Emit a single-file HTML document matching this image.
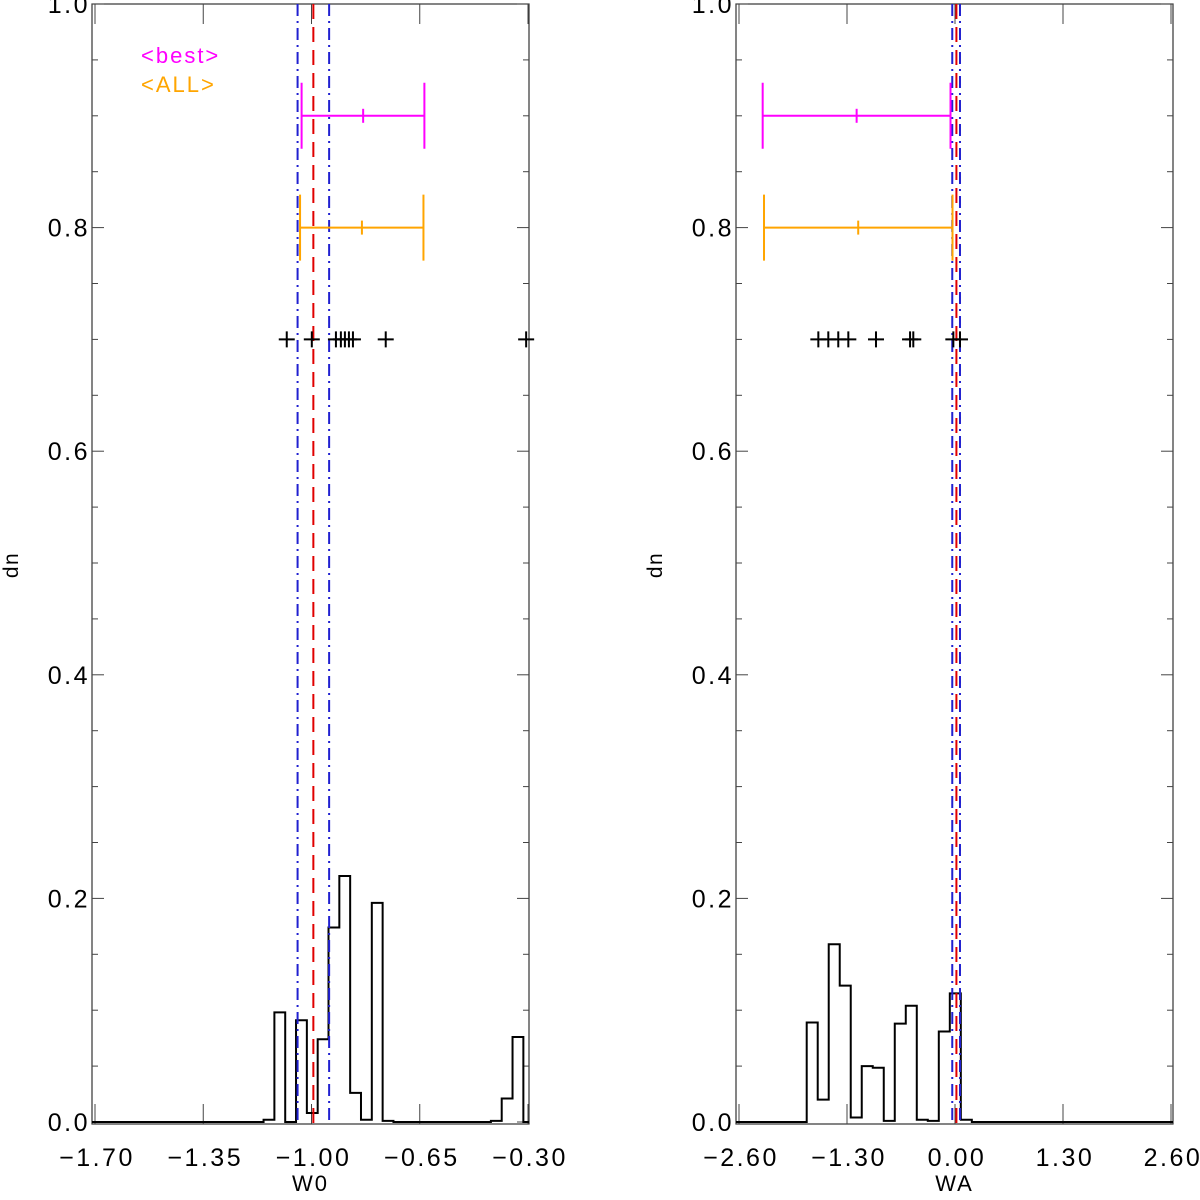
<!DOCTYPE html>
<html><head><meta charset="utf-8"><style>
body{margin:0;background:#fff}
svg text{font-family:"Liberation Sans","DejaVu Sans",sans-serif}
</style></head><body>
<svg id="chart" width="1200" height="1195" xmlns="http://www.w3.org/2000/svg"></svg>
<script>
// ---- data ----
const leftTicks = [-1.70, -1.35, -1.00, -0.65, -0.30];
const rightTicks = [-2.60, -1.30, 0.00, 1.30, 2.60];
const yTicks = [0.0, 0.2, 0.4, 0.6, 0.8, 1.0];
const leftHistStart = -1.155;
const leftHistWidth = 0.035;
const leftHist = [0.002,0.098,0,0.091,0.008,0.074,0.174,0.220,0.026,0.002,0.196,0.001,0,0,0,0,0,0,0,0,0,0.001,0.021,0.076];
const rightHistStart = -1.785;
const rightHistWidth = 0.1325;
const rightHist = [0.089,0.020,0.159,0.122,0.004,0.050,0.0485,0.001,0.088,0.104,0.002,0.001,0.081,0.115,0.002];
const leftBest = [-1.032, -0.833, -0.635];
const leftAll = [-1.037, -0.837, -0.638];
const rightBest = [-2.315, -1.184, -0.054];
const rightAll = [-2.299, -1.165, -0.030];
const leftBlue = [-1.045, -0.943];
const leftRed = [-0.994];
const rightBlue = [-0.033, 0.060];
const rightRed = [0.017];
const leftPoints = [-1.080,-0.999,-0.921,-0.905,-0.892,-0.879,-0.866,-0.760,-0.306];
const rightPoints = [-1.645,-1.525,-1.405,-1.284,-0.951,-0.541,-0.502,-0.020,0.060];

const svg = document.getElementById('chart');
const NS = 'http://www.w3.org/2000/svg';
function mk(tag, attrs, name){
  const e = document.createElementNS(NS, tag);
  for (const k in attrs) e.setAttribute(k, attrs[k]);
  
  
  svg.appendChild(e);
  return e;
}
function txt(x,y,s,size,name,fill,anchor,ls){
  const t = mk('text',{x:x,y:y,'font-size':size,'text-anchor':anchor||'middle'},name);
  t.style.fill = fill||'#000';
  t.style.letterSpacing = (ls||0)+'px';
  t.textContent = s; return t;
}

function panel(p){
  const X0=p.px0, X1=p.px1, T=4, B=1124;
  const xs = v => p.dx0 + (v - p.xmin)/(p.xmax-p.xmin)*(p.dx1-p.dx0);
  const ys = v => 1122 - v*1118;
  mk('rect',{x:X0,y:T,width:X1-X0,height:B-T,fill:'none',stroke:'#333','stroke-width':1.2},p.id+'-frame');
  p.xticks.forEach(v=>{
    const x=xs(v);
    mk('line',{x1:x,y1:B,x2:x,y2:B-20,stroke:'#444','stroke-width':1},p.id+'-x-tick');
    mk('line',{x1:x,y1:T,x2:x,y2:T+20,stroke:'#444','stroke-width':1},p.id+'-x-tick-top');
    txt(x+2,1166,(v<0?'\u2212':'')+Math.abs(v).toFixed(2),25,p.id+'-x-tick-label',null,'middle',2.5);
  });
  for(let i=0;i<=20;i++){
    const v=i*0.05, y=ys(v), major=(i%4===0);
    const L = major?12:6;
    mk('line',{x1:X0,y1:y,x2:X0+L,y2:y,stroke:'#444','stroke-width':1},p.id+'-y-tick');
    mk('line',{x1:X1,y1:y,x2:X1-L,y2:y,stroke:'#444','stroke-width':1},p.id+'-y-tick-right');
  }
  yTicks.forEach(v=>txt(X0-2,ys(v)+9,v.toFixed(1),25,p.id+'-y-tick-label',null,'end',2.5));
  txt((X0+X1)/2,1191,p.xlabel,22,p.id+'-x-axis-title',null,'middle',2);
  const yl = txt(0,0,'dn',21,p.id+'-y-axis-title',null,'middle',1.5);
  yl.setAttribute('transform','translate('+(X0-74)+',565) rotate(-90)');
  let d='M'+X0+','+ys(0);
  p.hist.forEach((v,i)=>{
    const a=xs(p.hstart+i*p.hw), b=xs(p.hstart+(i+1)*p.hw);
    d+=' L'+a+','+ys(i===0?0:p.hist[i-1])+' L'+a+','+ys(v)+' L'+b+','+ys(v);
  });
  const last=xs(p.hstart+p.hist.length*p.hw);
  d+=' L'+last+','+ys(0)+' L'+X1+','+ys(0);
  mk('path',{d:d,fill:'none',stroke:'#000','stroke-width':2},p.id+'-histogram');
  p.blue.forEach(v=>mk('line',{x1:xs(v),y1:T,x2:xs(v),y2:B,stroke:'#2020d0','stroke-width':2,'stroke-dasharray':'12,5,2,5'},p.id+'-interval-line'));
  p.red.forEach(v=>mk('line',{x1:xs(v),y1:T,x2:xs(v),y2:B,stroke:'#e00000','stroke-width':2,'stroke-dasharray':'15,8'},p.id+'-mean-line'));
  [[p.best,0.9,'#ff00ff','best'],[p.all,0.8,'#ffa500','all']].forEach(([e,yv,c,n])=>{
    const y=ys(yv);
    mk('line',{x1:xs(e[0]),y1:y,x2:xs(e[2]),y2:y,stroke:c,'stroke-width':2},p.id+'-errorbar-'+n);
    mk('line',{x1:xs(e[0]),y1:y-33,x2:xs(e[0]),y2:y+33,stroke:c,'stroke-width':2},p.id+'-errorbar-cap-'+n);
    mk('line',{x1:xs(e[2]),y1:y-33,x2:xs(e[2]),y2:y+33,stroke:c,'stroke-width':2},p.id+'-errorbar-cap-'+n);
    mk('line',{x1:xs(e[1]),y1:y-7,x2:xs(e[1]),y2:y+7,stroke:c,'stroke-width':2},p.id+'-errorbar-center-'+n);
  });
  p.pts.forEach(v=>{
    const x=xs(v), y=ys(0.7);
    mk('path',{d:'M'+(x-8)+','+y+' H'+(x+8)+' M'+x+','+(y-8)+' V'+(y+8),stroke:'#000','stroke-width':2,fill:'none'},p.id+'-sample-point');
  });
}
panel({id:'left',px0:92,px1:529,dx0:95,dx1:528,xmin:-1.70,xmax:-0.30,xticks:leftTicks,xlabel:'W0',
  hist:leftHist,hstart:leftHistStart,hw:leftHistWidth,blue:leftBlue,red:leftRed,best:leftBest,all:leftAll,pts:leftPoints});
panel({id:'right',px0:736,px1:1173,dx0:739,dx1:1171,xmin:-2.60,xmax:2.60,xticks:rightTicks,xlabel:'WA',
  hist:rightHist,hstart:rightHistStart,hw:rightHistWidth,blue:rightBlue,red:rightRed,best:rightBest,all:rightAll,pts:rightPoints});
txt(141,63,'<best>',22,'legend-best','#ff00ff','start',2);
txt(141,92,'<ALL>',22,'legend-all','#ffa500','start',2);
</script>
</body></html>
